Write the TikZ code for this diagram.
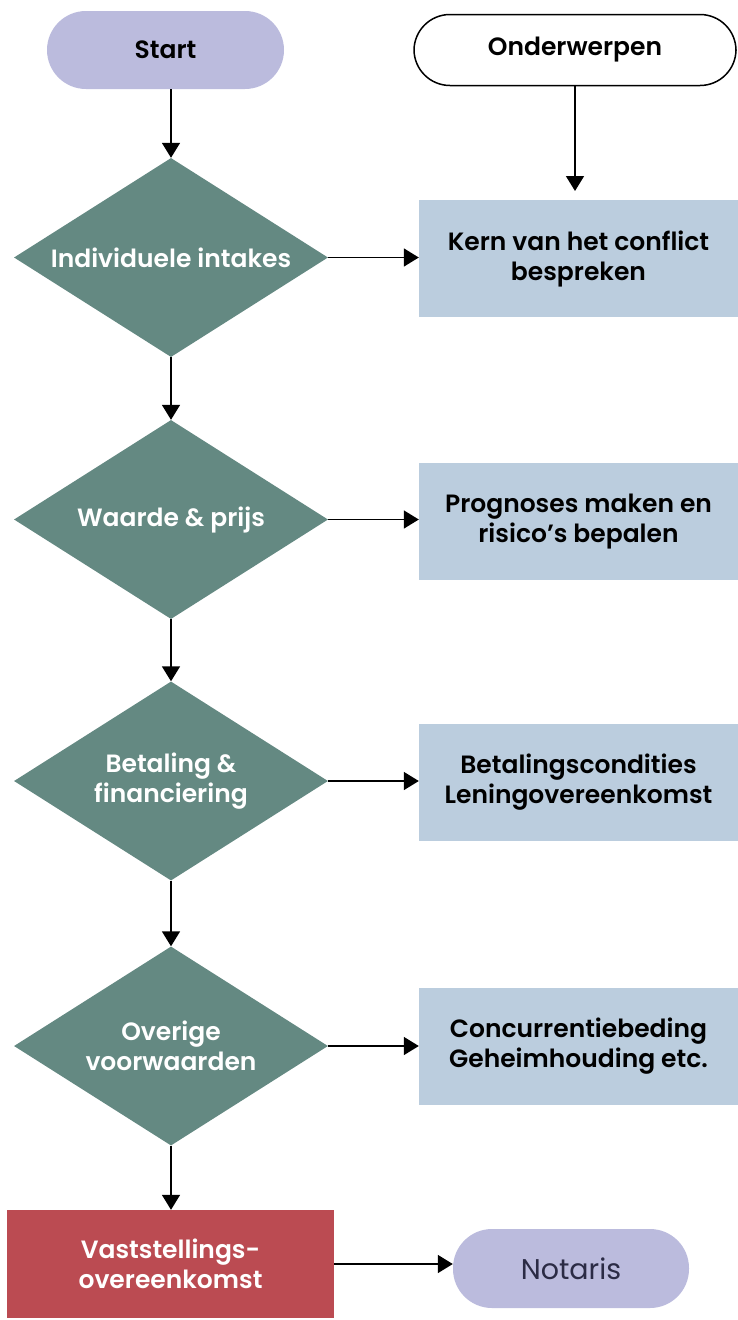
\documentclass[tikz,border=0pt]{standalone}
\usepackage{fontspec}
\setmainfont{Poppins}[BoldFont={Poppins SemiBold}]
\usetikzlibrary{shapes.geometric,arrows.meta}
\definecolor{lav}{RGB}{187,187,221}
\definecolor{teal}{RGB}{100,137,130}
\definecolor{pale}{RGB}{187,205,222}
\definecolor{brick}{RGB}{187,75,82}
\definecolor{navy}{RGB}{43,43,69}
\tikzset{
  base/.style={font=\fontsize{25}{30}\selectfont\bfseries, align=center, inner sep=0pt},
  pill/.style={base, rounded corners=#1},
  dia/.style={base, shape=diamond, fill=teal, text=white, aspect=1.58, minimum width=314pt, minimum height=199pt},
  sidebox/.style={base, fill=pale, minimum width=319pt, minimum height=117pt},
  conn/.style={line width=1.6pt, -{Triangle[width=18pt,length=15pt]}}
}
\begin{document}
\begin{tikzpicture}[x=1pt,y=-1pt]
\useasboundingbox (0,0) rectangle (738,1320);
\node[pill=39pt, fill=lav, minimum width=237pt, minimum height=78pt] (start) at (165.5,50) {Start};
\node[pill=36pt, draw=black, line width=1.5pt, fill=white, minimum width=322pt, minimum height=71pt] (ond) at (575,50) {Onderwerpen};
\coordinate (ondend) at (575,191);
\node[dia] (d1) at (171,257.5) {Individuele intakes};
\node[dia] (d2) at (171,519.5) {Waarde \& prijs};
\node[dia] (d3) at (171,781) {Betaling \&\\financiering};
\node[dia] (d4) at (171,1046) {Overige\\voorwaarden};
\node[sidebox] (b1) at (578.5,258.5) {Kern van het conflict\\bespreken};
\node[sidebox] (b2) at (578.5,521.5) {Prognoses maken en\\risico’s bepalen};
\node[sidebox] (b3) at (578.5,782) {Betalingscondities\\Leningovereenkomst};
\node[sidebox] (b4) at (578.5,1046) {Concurrentiebeding\\Geheimhouding etc.};
\node[base, fill=brick, text=white, minimum width=327pt, minimum height=108pt] (vo) at (170.5,1264) {Vaststellings-\\overeenkomst};
\node[pill=39pt, fill=lav, text=navy, font=\fontsize{28.5}{30}\selectfont, minimum width=236pt, minimum height=79pt] (not) at (571,1268.5) {Notaris};
\draw[conn] (start.south -| d1.north) -- (d1.north);
\draw[conn] (ond.south) -- (ondend);
\draw[conn] (d1.east) -- (d1.east -| b1.west);
\draw[conn] (d2.east) -- (d2.east -| b2.west);
\draw[conn] (d3.east) -- (d3.east -| b3.west);
\draw[conn] (d4.east) -- (d4.east -| b4.west);
\draw[conn] (d1.south) -- (d2.north);
\draw[conn] (d2.south) -- (d3.north);
\draw[conn] (d3.south) -- (d4.north);
\draw[conn] (d4.south) -- (d4.south |- vo.north);
\draw[conn] (vo.east) -- (vo.east -| not.west);
\end{tikzpicture}
\end{document}
